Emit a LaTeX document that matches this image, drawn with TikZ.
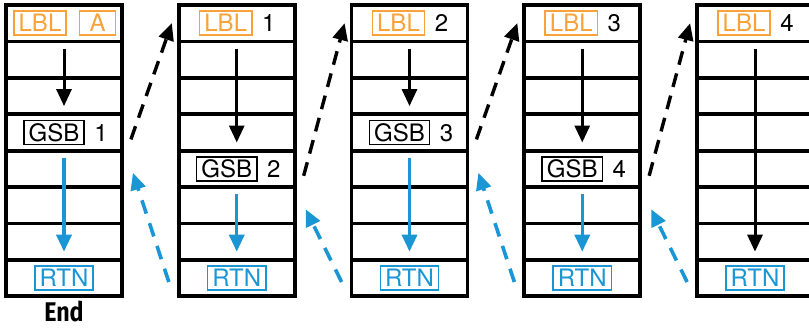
\documentclass[tikz,border=0pt]{standalone}
\usepackage{fontspec}
\setmainfont{TeX Gyre Heros}
\newfontfamily\endfont{Fira Sans}
\usepackage{tikz}
\usetikzlibrary{arrows.meta, positioning}
\definecolor{LblOrange}{HTML}{F7A23B}
\definecolor{RtnBlue}{HTML}{1A96D4}

\begin{document}
\begin{tikzpicture}[x=0.5pt, y=-0.5pt, font=\fontsize{12}{14}\selectfont,
    cell/.style={draw, line width=1.9pt, minimum width=58pt, minimum height=18.2pt, inner sep=0pt},
    key/.style={draw, line width=0.75pt, inner xsep=2.4pt, inner ysep=0pt, minimum height=12pt, text height=8.6pt, text depth=0pt},
    lbl/.style={key, draw=LblOrange, text=LblOrange},
    rtn/.style={key, draw=RtnBlue, text=RtnBlue},
    num/.style={inner sep=0pt, text height=8.6pt, text depth=0pt},
    flow/.style={-{Triangle[length=8.5pt, width=7.5pt]}, line width=1.5pt},
    call/.style={flow, line width=1.7pt, dash pattern=on 7pt off 4.5pt},
    back/.style={flow, RtnBlue, line width=1.8pt, dash pattern=on 7pt off 5pt}]
        \useasboundingbox (0,0) rectangle (809,332);
        \clip (0,0) rectangle (809,332);
        % Program memory columns
        \foreach \c in {1,...,5}
          \foreach \r in {1,...,8}
            \node[cell] (c\c-\r) at ({64+172.75*(\c-1)}, {5+36.4*(\r-0.5)}) {};
        % Labels
        \node[lbl] (lblA) at ([xshift=-12pt]c1-1) {LBL};
        \node[lbl, minimum width=18pt, right=6pt of lblA] (keyA) {A};
        \foreach \c/\n in {2/1, 3/2, 4/3, 5/4} {
          \node[lbl] (lbl\c) at ([xshift=-5.5pt]c\c-1) {LBL};
          \node[num, right=4.5pt of lbl\c] (num\c) {\n};
        }
        % Subroutine calls
        \foreach \c/\r in {1/4, 2/5, 3/4, 4/5} {
          \node[key] (gsb\c) at ([xshift=-5pt]c\c-\r) {GSB};
          \node[num, right=4.5pt of gsb\c] (gnum\c) {\c};
        }
        \foreach \c in {1,...,5}
          \node[rtn] (rtn\c) at (c\c-8) {RTN};
        \node[inner sep=0pt, text height=9.6pt, text depth=0pt, below=2pt of c1-8, font=\endfont\bfseries\fontsize{13.5}{15}\selectfont] (end) {\scalebox{0.86}[1]{End}};
        % Flow inside each column
        \foreach \c/\r in {1/4, 2/5, 3/4, 4/5} {
          \pgfmathtruncatemacro\a{\r-1}
          \pgfmathtruncatemacro\b{\r+1}
          \pgfmathtruncatemacro\d{\c+1}
          \draw[flow] ([yshift=-4.5pt]c\c-2.north) -- ([yshift=5pt]c\c-\a.south);
          \draw[flow, RtnBlue, line width=1.7pt] ([yshift=-4.5pt]c\c-\b.north) -- ([yshift=5pt]c\c-7.south);
          % jump and return
          \draw[call] ([xshift=3.5pt, yshift=-3.5pt]c\c-\r.east) -- ([xshift=-2.5pt]c\d-1.west);
          \draw[back] ([xshift=-4pt, yshift=-2pt]c\d-8.west) -- ([xshift=4.5pt, yshift=-2pt]c\c-\b.east);
        }
        \draw[flow] ([yshift=-4.5pt]c5-2.north) -- ([yshift=5pt]c5-7.south);
      \end{tikzpicture}
\end{document}
